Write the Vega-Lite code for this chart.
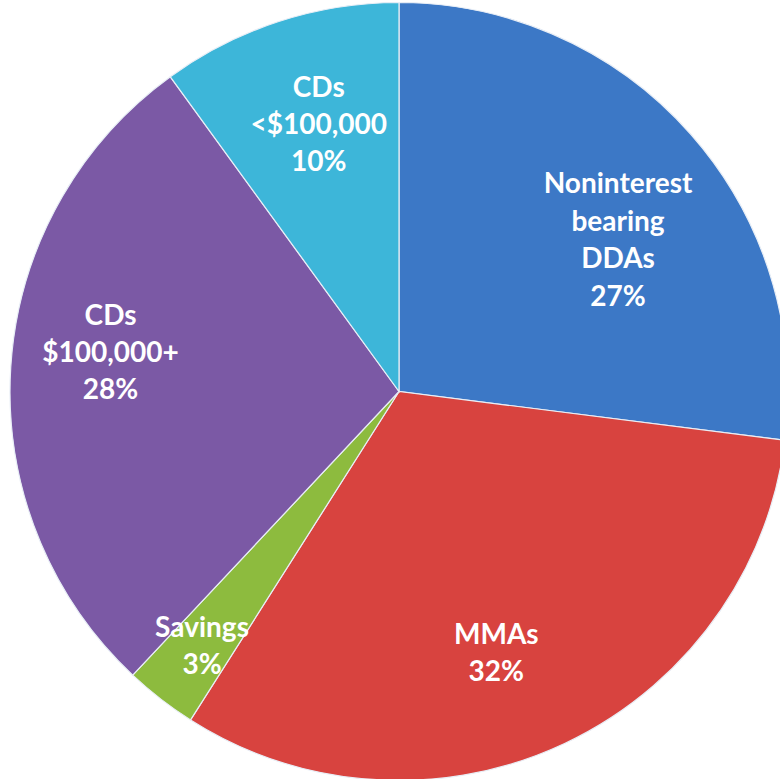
{
  "$schema": "https://vega.github.io/schema/vega-lite/v6.json",
  "width": 780,
  "height": 779,
  "autosize": "none",
  "padding": {"left": 9, "top": 2, "right": 0, "bottom": 0},
  "background": "white",
  "data": {
    "values": [
      {"order": 1, "category": "Noninterest bearing DDAs", "label": "Noninterest\nbearing\nDDAs\n27%", "pct": 27},
      {"order": 2, "category": "MMAs", "label": "MMAs\n32%", "pct": 32},
      {"order": 3, "category": "Savings", "label": "Savings\n3%", "pct": 3},
      {"order": 4, "category": "CDs $100,000+", "label": "CDs\n$100,000+\n28%", "pct": 28},
      {"order": 5, "category": "CDs <$100,000", "label": "CDs\n<$100,000\n10%", "pct": 10}
    ]
  },
  "transform": [
    {"stack": "pct", "groupby": [], "sort": [{"field": "order", "order": "ascending"}], "as": ["start", "end"]},
    {"calculate": "(datum.start + datum.end) / 2", "as": "mid"}
  ],
  "layer": [
    {
      "mark": {"type": "arc", "outerRadius": 389, "stroke": "#e8eef6", "strokeWidth": 1.2},
      "encoding": {
        "theta": {"field": "start", "type": "quantitative", "scale": {"domain": [0, 100]}},
        "theta2": {"field": "end"},
        "color": {
          "field": "category",
          "type": "nominal",
          "scale": {
            "domain": ["Noninterest bearing DDAs", "MMAs", "Savings", "CDs $100,000+", "CDs <$100,000"],
            "range": ["#3C78C6", "#D8433F", "#8DBB3E", "#7B59A5", "#3DB6D9"]
          },
          "legend": null
        }
      }
    },
    {
      "transform": [{"filter": "datum.order == 1"}],
      "mark": {"type": "text", "radius": 292, "dy": -13, "dx": 0, "font": "Lato", "fontWeight": "bold", "fontSize": 28, "lineHeight": 37.5, "lineBreak": "\n", "color": "white", "align": "center", "baseline": "middle"},
      "encoding": {"theta": {"field": "mid", "type": "quantitative", "scale": {"domain": [0, 100]}}, "text": {"field": "label", "type": "nominal"}}
    },
    {
      "transform": [{"filter": "datum.order == 2"}],
      "mark": {"type": "text", "radius": 292, "dy": -20, "dx": -27, "font": "Lato", "fontWeight": "bold", "fontSize": 28, "lineHeight": 37, "lineBreak": "\n", "color": "white", "align": "center", "baseline": "middle"},
      "encoding": {"theta": {"field": "mid", "type": "quantitative", "scale": {"domain": [0, 100]}}, "text": {"field": "label", "type": "nominal"}}
    },
    {
      "transform": [{"filter": "datum.order == 3"}],
      "mark": {"type": "text", "radius": 292, "dy": 7, "dx": -18, "font": "Lato", "fontWeight": "bold", "fontSize": 28, "lineHeight": 37, "lineBreak": "\n", "color": "white", "align": "center", "baseline": "middle"},
      "encoding": {"theta": {"field": "mid", "type": "quantitative", "scale": {"domain": [0, 100]}}, "text": {"field": "label", "type": "nominal"}}
    },
    {
      "transform": [{"filter": "datum.order == 4"}],
      "mark": {"type": "text", "radius": 292, "dy": -56, "dx": 3, "font": "Lato", "fontWeight": "bold", "fontSize": 28, "lineHeight": 37, "lineBreak": "\n", "color": "white", "align": "center", "baseline": "middle"},
      "encoding": {"theta": {"field": "mid", "type": "quantitative", "scale": {"domain": [0, 100]}}, "text": {"field": "label", "type": "nominal"}}
    },
    {
      "transform": [{"filter": "datum.order == 5"}],
      "mark": {"type": "text", "radius": 292, "dy": -25, "dx": 10, "font": "Lato", "fontWeight": "bold", "fontSize": 28, "lineHeight": 37, "lineBreak": "\n", "color": "white", "align": "center", "baseline": "middle"},
      "encoding": {"theta": {"field": "mid", "type": "quantitative", "scale": {"domain": [0, 100]}}, "text": {"field": "label", "type": "nominal"}}
    }
  ]
}
